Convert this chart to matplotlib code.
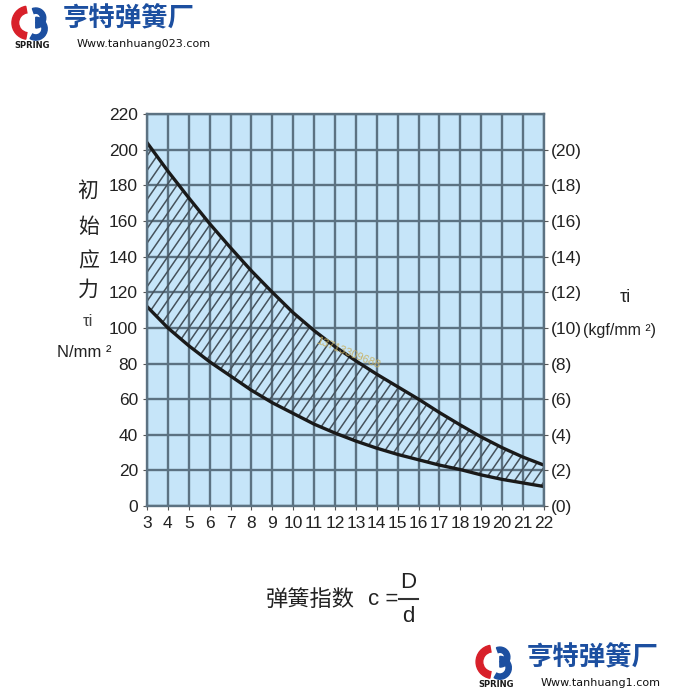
import numpy as np
import matplotlib.pyplot as plt
from matplotlib.patches import Wedge

plt.rcParams['font.family'] = ['Liberation Sans', 'Noto Sans CJK SC', 'DejaVu Sans']

# spring index c = D/d
c = [3, 4, 5, 6, 7, 8, 9, 10, 11, 12, 13, 14, 15, 16, 17, 18, 19, 20, 21, 22]
# initial stress upper / lower limits, N/mm2
upper = [204, 188, 173, 158.5, 145, 132, 120, 108.5, 98.5, 89.5, 81.5, 74, 67, 60, 52.5, 45.5, 38.8, 32.8, 27.5, 23]
lower = [112, 100, 90, 81, 73, 65, 58, 52, 46, 41, 36.5, 32.5, 29, 26, 23, 20.5, 17.5, 15, 13, 11]

yticks = list(range(0, 221, 20))
right_labels = ['(' + str(v // 10) + ')' for v in range(0, 201, 20)]

fig = plt.figure(figsize=(7, 7), dpi=100)
ax = fig.add_axes([0.21, 0.277, 0.567, 0.56])
ax.set_facecolor('#c6e5f9')

band = ax.fill_between(c, lower, upper, facecolor='none', linewidth=0)
# steep diagonal hatching, clipped to the band
slope = 17.0
for x0 in np.arange(-10, 22, 0.48):
    ln, = ax.plot([x0, x0 + 220 / slope], [0, 220], color='#46525c', lw=1.1)
    ln.set_clip_path(band.get_paths()[0], ax.transData)

ax.plot(c, upper, color='#1a1a1a', lw=2.4, solid_joinstyle='round')
ax.plot(c, lower, color='#1a1a1a', lw=2.4, solid_joinstyle='round')

ax.set_xlim(3, 22)
ax.set_ylim(0, 220)
ax.set_xticks(c)
ax.set_yticks(yticks)
ax.grid(True, color='#5c7282', lw=1.7)
ax.set_axisbelow(True)
for s in ax.spines.values():
    s.set_color('#5c7282')
    s.set_linewidth(1.7)
ax.tick_params(axis='both', length=3, color='#555555', labelsize=12.5, labelcolor='#222222')
ax.tick_params(axis='x', pad=4)

ax2 = ax.twinx()
ax2.set_ylim(0, 220)
ax2.set_yticks(list(range(0, 201, 20)))
ax2.set_yticklabels(right_labels)
ax2.tick_params(axis='y', length=3, color='#555555', labelsize=12.5, labelcolor='#222222', pad=2)
for s in ax2.spines.values():
    s.set_visible(False)

# watermark
ax.text(12.6, 86, '13713309688', rotation=-22, color='#c8b060', fontsize=8, alpha=0.9,
        ha='center', va='center')

# left axis label
for ch, yy in zip('初始应力', [0.728, 0.676, 0.626, 0.586]):
    fig.text(0.126, yy, ch, fontsize=15, ha='center', va='center', color='#222222',
             family=['Noto Sans CJK SC'])
fig.text(0.126, 0.54, 'τi', fontsize=12, ha='center', va='center', color='#444444')
fig.text(0.12, 0.497, 'N/mm ²', fontsize=12, ha='center', va='center', color='#222222')

# right axis label
fig.text(0.893, 0.575, 'τi', fontsize=13, ha='center', va='center', color='#222222')
fig.text(0.885, 0.528, '(kgf/mm ²)', fontsize=11.5, ha='center', va='center', color='#222222')

# x label
fig.text(0.443, 0.143, '弹簧指数', fontsize=16, ha='center', va='center', color='#222222',
         family=['Noto Sans CJK SC'])
fig.text(0.548, 0.143, 'c =', fontsize=16, ha='center', va='center', color='#222222')
fig.text(0.583, 0.168, 'D', fontsize=16, ha='center', va='center', color='#222222')
fig.text(0.583, 0.12, 'd', fontsize=16, ha='center', va='center', color='#222222')
fig.add_artist(plt.Line2D([0.57, 0.597], [0.144, 0.144], color='#333333', lw=1.5,
                          transform=fig.transFigure))


def logo(x0, y0, size, url):
    # small swirl mark and company name
    la = fig.add_axes([x0, y0, size, size])
    la.set_xlim(-1, 1)
    la.set_ylim(-1, 1)
    la.axis('off')
    la.add_patch(Wedge((-0.15, 0.25), 0.7, 100, 260, width=0.28, color='#d8202a'))
    la.add_patch(Wedge((0.15, 0.45), 0.42, -90, 110, width=0.22, color='#1c4fa0'))
    la.add_patch(Wedge((0.15, 0.0), 0.48, -120, 90, width=0.22, color='#1c4fa0'))
    la.text(0, -0.72, 'SPRING', ha='center', va='center', fontsize=6, weight='bold',
            color='#1a1a1a', family=['DejaVu Sans'])
    fig.text(x0 + size + 0.01, y0 + size * 0.72, '亨特弹簧厂', fontsize=19, weight='bold',
             style='italic', color='#1c4fa0', va='center', ha='left',
             family=['Noto Sans CJK SC'])
    fig.text(x0 + size + 0.03, y0 + size * 0.18, url, fontsize=8, color='#111111',
             va='center', ha='left', family=['DejaVu Sans'])


logo(0.012, 0.925, 0.068, 'Www.tanhuang023.com')
logo(0.675, 0.012, 0.068, 'Www.tanhuang1.com')

fig.savefig('out.png', dpi=100)
